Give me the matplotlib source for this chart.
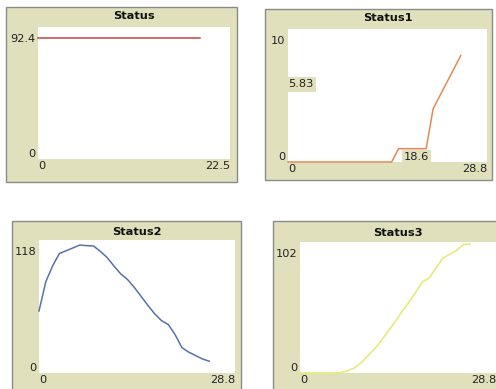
import matplotlib
matplotlib.use("Agg")
import matplotlib.pyplot as plt
from matplotlib.patches import Rectangle
from matplotlib.transforms import ScaledTranslation

W, H, DPI = 496, 389, 100

# ---------------- data ----------------
titles = ["Status", "Status1", "Status2", "Status3"]

status_x = list(range(0, 20))
status_y = [84.7] * 20

status1_x = list(range(0, 26))
status1_y = [0] * 16 + [1, 1, 1, 1, 1] + [4, 5, 6, 7, 8]

status2_x = list(range(0, 26))
status2_y = [55, 81, 95, 106, 108.5, 111, 113.5, 113, 112.7, 108, 102.5, 95, 88,
             83, 76, 68, 60, 52.5, 46.5, 43, 34, 22.5, 18.5, 15.5, 12.5, 10.5]

status3_x = list(range(0, 26))
status3_y = [0, 0, 0, 0, 0, 0, 0.3, 1.8, 4, 8, 13.5, 19, 25.5, 33, 40, 48, 55,
             63, 71, 74, 82, 89.5, 92.5, 95.5, 100, 100.5]

xmax_vals = [22.5, 28.8, 28.8, 28.8]
ymax_vals = [92.4, 10, 118, 102]
xtick_labels = [["0", "22.5"], ["0", "28.8"], ["0", "28.8"], ["0", "28.8"]]
ytick_labels = [["0", "92.4"], ["0", "10"], ["0", "118"], ["0", "102"]]
hover_y = 5.83
hover_x = 18.6

colors = ["#c0453e", "#e38a55", "#5872a8", "#e6ea72"]

# ---------------- layout (pixels) ----------------
frames = [(6, 7, 237, 182), (265, 9, 492, 180), (12, 221, 241, 395), (273, 221, 500, 395)]
plots = [(38, 27, 230, 159), (288, 29, 487, 162), (39, 240, 235, 373), (300, 242, 496, 373)]
title_y = [16, 18, 232, 233]

FRAME_BG = "#e1e0bc"
FS = 8.2

fig = plt.figure(figsize=(W / DPI, H / DPI), dpi=DPI)
fig.patch.set_facecolor("white")


def fx(px):
    return px / W


def fy(py):
    return 1 - py / H


series = [(status_x, status_y), (status1_x, status1_y),
          (status2_x, status2_y), (status3_x, status3_y)]

for i in range(4):
    x0, y0, x1, y1 = frames[i]
    rect = Rectangle((fx(x0), fy(y1)), fx(x1 - x0), (y1 - y0) / H,
                     transform=fig.transFigure, facecolor=FRAME_BG,
                     edgecolor="#8a8a8a", linewidth=1.0, zorder=-5)
    fig.patches.append(rect)
    px0, py0, px1, py1 = plots[i]
    ax = fig.add_axes([fx(px0), fy(py1), fx(px1 - px0), (py1 - py0) / H])
    ax.set_zorder(2)
    ax.set_facecolor("white")
    for s in ax.spines.values():
        s.set_visible(False)
    xs, ys = series[i]
    ax.plot(xs, ys, color=colors[i], linewidth=1.1, solid_joinstyle="round", clip_on=False)
    ax.set_xlim(0, xmax_vals[i])
    ax.set_ylim(0, ymax_vals[i])
    ax.set_xticks([0, xmax_vals[i]])
    ax.set_xticklabels(xtick_labels[i])
    ax.set_yticks([0, ymax_vals[i]])
    ax.set_yticklabels(ytick_labels[i])
    ax.tick_params(length=0, labelsize=FS, colors="#222222", pad=2)
    ax.tick_params(axis="x", pad=1.5)
    xl = ax.get_xticklabels()
    xl[0].set_ha("left")
    xl[1].set_ha("right")
    yl = ax.get_yticklabels()
    yl[0].set_transform(yl[0].get_transform() + ScaledTranslation(0, 6 / DPI, fig.dpi_scale_trans))
    yl[1].set_transform(yl[1].get_transform() + ScaledTranslation(0, -11 / DPI, fig.dpi_scale_trans))
    fig.text(fx((px0 + px1) / 2), fy(title_y[i]), titles[i], ha="center", va="center",
             fontsize=8.2, fontweight="bold", color="#111111", zorder=3)
    if i == 1:
        ax.text(0.0, hover_y, "5.83", ha="left", va="center", fontsize=FS, color="#222222",
                transform=ax.get_yaxis_transform(),
                bbox=dict(boxstyle="square,pad=0.2", facecolor=FRAME_BG, edgecolor="none"))
        ax.text(hover_x, 0.0, "18.6", ha="center", va="bottom", fontsize=FS, color="#222222",
                bbox=dict(boxstyle="square,pad=0.2", facecolor=FRAME_BG, edgecolor="none"))

fig.savefig("out.png", dpi=DPI, facecolor="white")
